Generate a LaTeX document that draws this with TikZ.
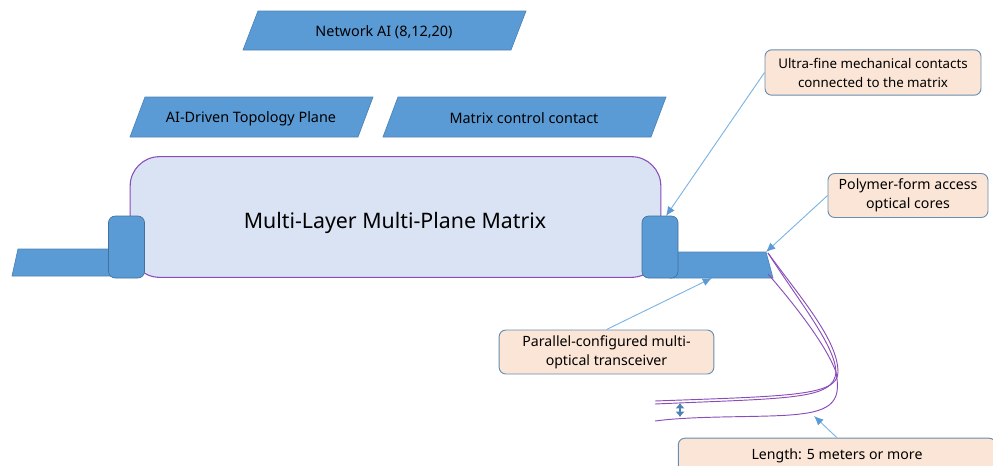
\documentclass[tikz,border=0pt]{standalone}
\usepackage{fontspec}
\setmainfont{Noto Sans}
\usetikzlibrary{arrows.meta}
\definecolor{panelblue}{HTML}{5B9BD5}
\definecolor{edgeblue}{HTML}{41719C}
\definecolor{matrixfill}{HTML}{DAE3F3}
\definecolor{notefill}{HTML}{FBE5D6}
\definecolor{fibre}{HTML}{8A4DB8}
\definecolor{pointer}{HTML}{7DB4E3}
\tikzstyle{panel} = [draw=panelblue!85!black,fill=panelblue,line width=0.5pt]
\tikzstyle{contact} = [panel,rounded corners=5pt,draw=edgeblue,minimum width=27pt,minimum height=46.5pt,inner sep=0pt]
\tikzstyle{note} = [draw=edgeblue!80,fill=notefill,rounded corners=5pt,line width=0.7pt,align=center,font=\fontsize{10.6}{14.2}\selectfont,inner sep=0pt]
\tikzstyle{label} = [inner sep=0pt,font=\fontsize{10.8}{13}\selectfont]
\tikzstyle{pointerline} = [draw=pointer,line width=0.7pt,-{Latex[length=7pt,width=6pt,color=panelblue]}]
\tikzstyle{core} = [draw=fibre,line width=0.7pt]

\begin{document}
\begin{tikzpicture}[x=0.75pt,y=-0.75pt]
  \useasboundingbox (0,0) rectangle (993,465);
  % upper planes
  \draw[panel] (243,50) -- (258,11) -- (526,11) -- (511,50) -- cycle;
  \node[label] (ai) at (384,32) {Network AI (8,12,20)};
  \draw[panel] (130,137) -- (145,97) -- (373,97) -- (358,137) -- cycle;
  \node[label] (topo) at (251,118.5) {AI-Driven Topology Plane};
  \draw[panel] (383,137) -- (398,97) -- (666,97) -- (651,137) -- cycle;
  \node[label] (ctrl) at (524,118.5) {Matrix control contact};
  % matrix
  \node[draw=fibre,fill=matrixfill,rounded corners=22pt,line width=0.8pt,minimum width=398pt,minimum height=90.5pt,inner sep=0pt] (matrix) at (395.5,217) {};
  \node[inner sep=0pt,font=\fontsize{16}{20}\selectfont] (title) at (395,223) {Multi-Layer Multi-Plane Matrix};
  % access cores on both sides
  \draw[panel] (12,276) -- (18,249) -- (112,249) -- (112,276) -- cycle;
  \draw[panel] (670,252) -- (766,252) -- (773,278) -- (670,278) -- cycle;
  \node[contact] (left) at (126.5,247) {};
  \node[contact] (right) at (660,247) {};
  % fibres
  \coordinate (coreA) at (768,253);
  \coordinate (coreB) at (768,274);
  \draw[core] (coreA) .. controls (800,297) and (838,340) .. (838,372) .. controls (838,396) and (790,396) .. (655,401);
  \draw[core] (coreA) .. controls (798,300) and (835,345) .. (836,372) .. controls (834,400) and (790,398) .. (655,404);
  \draw[core] (coreB) .. controls (795,305) and (826,345) .. (836,372) .. controls (840,395) and (838,410) .. (800,414) .. controls (770,418) and (700,415) .. (655,421);
  \coordinate (gapTop) at (680,403);
  \coordinate (gapBot) at (680,417);
  \draw[draw=edgeblue!60!panelblue,line width=2pt,{Latex[length=4pt,width=7pt]}-{Latex[length=4pt,width=7pt]}] (gapTop) -- (gapBot);
  % notes
  \node[note,minimum width=162pt,minimum height=34pt,font=\fontsize{10}{14.2}\selectfont] (mech) at (873,72.5) {Ultra-fine mechanical contacts\\connected to the matrix};
  \node[note,minimum width=120pt,minimum height=33pt] (access) at (908,195.5) {Polymer-form access\\optical cores};
  \node[note,minimum width=161pt,minimum height=33pt] (trans) at (606.5,352) {Parallel-configured multi-\\optical transceiver};
  \node[note,minimum width=238pt,minimum height=26pt] (len) at (837,455.5) {Length: 5 meters or more};
  \coordinate (mechTip) at (666,216);
  \coordinate (accessTip) at (766,252);
  \coordinate (transTip) at (712,278);
  \coordinate (lenTip) at (814,416);
  \draw[pointerline] (mech.west) -- (mechTip);
  \draw[pointerline] (access.west) -- (accessTip);
  \draw[pointerline] (trans.north) -- (transTip);
  \draw[pointerline] (len.north) -- (lenTip);
\end{tikzpicture}
\end{document}
